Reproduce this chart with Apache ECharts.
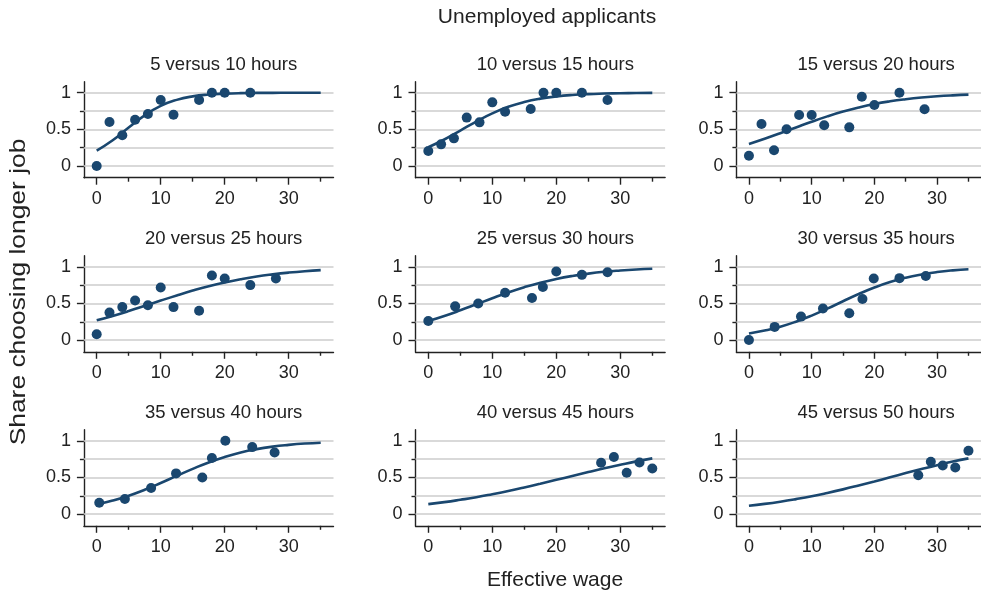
<!DOCTYPE html>
<html>
<head>
<meta charset="utf-8">
<script src="https://cdn.jsdelivr.net/npm/echarts@6/dist/echarts.min.js"></script>
<style>html,body{margin:0;padding:0;background:#fff}#c{width:981px;height:595px}</style>
</head>
<body>
<div id="c"></div>
<script>
// ---- data ----
var mainTitle = 'Unemployed applicants';
var xName = 'Effective wage';
var yName = 'Share choosing longer job';
var panelTitles = ['5 versus 10 hours','10 versus 15 hours','15 versus 20 hours',
                   '20 versus 25 hours','25 versus 30 hours','30 versus 35 hours',
                   '35 versus 40 hours','40 versus 45 hours','45 versus 50 hours'];
var xMajor = [0,10,20,30];
var xMinor = [5,15,25,35];
var yMajor = [0,0.5,1];
var yMinor = [0.25,0.75];
var gridVals = [0,0.25,0.5,0.75,1];

var pts1 = [[0,0],[2,0.6],[4,0.42],[6,0.63],[8,0.71],[10,0.9],[12,0.7],[16,0.9],[18,1],[20,1],[24,1]];
var pts2 = [[0,0.205],[2,0.295],[4,0.377],[6,0.66],[8,0.595],[10,0.868],[12,0.74],[16,0.777],[18,1],[20,1],[24,1],[28,0.9]];
var pts3 = [[0,0.14],[2,0.573],[4,0.214],[6,0.5],[8,0.695],[10,0.695],[12,0.555],[16,0.527],[18,0.945],[20,0.832],[24,1],[28,0.773]];
var pts4 = [[0,0.08],[2,0.375],[4,0.45],[6,0.54],[8,0.475],[10,0.717],[12,0.45],[16,0.4],[18,0.88],[20,0.84],[24,0.75],[28,0.84]];
var pts5 = [[0,0.26],[4.2,0.46],[7.8,0.5],[12,0.645],[16.2,0.575],[17.9,0.725],[20,0.935],[24,0.89],[28,0.925]];
var pts6 = [[0,0],[4.1,0.18],[8.3,0.32],[11.8,0.43],[16,0.365],[18.1,0.56],[19.9,0.84],[24,0.845],[28.2,0.875]];
var pts7 = [[0.4,0.155],[4.4,0.205],[8.5,0.355],[12.4,0.555],[16.5,0.5],[18,0.764],[20.1,1],[24.3,0.914],[27.8,0.84]];
var pts8 = [[27,0.7],[29,0.78],[31,0.565],[33,0.705],[35,0.623]];
var pts9 = [[27,0.53],[29,0.714],[30.9,0.664],[32.9,0.636],[35,0.864]];

var curveX  = [0,2.5,5,7.5,10,12.5,15,17.5,20,22.5,25,27.5,30,32.5,35];
var curveX7 = [0.4,2.5,5,7.5,10,12.5,15,17.5,20,22.5,25,27.5,30,32.5,35];
var fit1 = [0.21,0.351,0.524,0.691,0.820,0.902,0.950,0.975,0.987,0.994,0.997,0.998,0.999,0.9996,0.9998];
var fit2 = [0.255,0.361,0.483,0.606,0.717,0.807,0.873,0.919,0.949,0.969,0.981,0.988,0.993,0.9956,0.997];
var fit3 = [0.30,0.371,0.447,0.526,0.604,0.677,0.742,0.798,0.845,0.882,0.911,0.934,0.951,0.964,0.974];
var fit4 = [0.270,0.330,0.396,0.467,0.539,0.609,0.675,0.735,0.787,0.831,0.868,0.897,0.921,0.940,0.954];
var fit5 = [0.260,0.329,0.406,0.488,0.571,0.650,0.721,0.783,0.834,0.875,0.907,0.932,0.950,0.964,0.974];
var fit6 = [0.090,0.130,0.182,0.251,0.334,0.429,0.530,0.628,0.717,0.792,0.851,0.895,0.928,0.951,0.966];
var fit7 = [0.140,0.184,0.251,0.332,0.424,0.521,0.617,0.705,0.779,0.840,0.886,0.920,0.944,0.962,0.974];
var fit8 = [0.136,0.163,0.195,0.230,0.271,0.315,0.363,0.414,0.467,0.520,0.573,0.625,0.673,0.719,0.760];
var fit9 = [0.114,0.139,0.169,0.204,0.243,0.288,0.337,0.390,0.445,0.502,0.559,0.614,0.667,0.716,0.760];

var points = [pts1,pts2,pts3,pts4,pts5,pts6,pts7,pts8,pts9];
var fits = [fit1,fit2,fit3,fit4,fit5,fit6,fit7,fit8,fit9];
var fitXs = [curveX,curveX,curveX,curveX,curveX,curveX,curveX7,curveX,curveX];

// ---- layout / style ----
var NAVY = '#1a476f';
var FONT = '"Liberation Sans", Arial, Helvetica, sans-serif';
var colLeft = [83.9, 415.5, 736.4];
var rowTop = [81.7, 255.8, 429.8];
var gw = 249.6, gh = 96;

var grids = [], xAxes = [], yAxes = [], series = [], graphics = [];
for (var i = 0; i < 9; i++) {
  var r = Math.floor(i / 3), c = i % 3;
  grids.push({left: colLeft[c], top: rowTop[r], width: gw, height: gh});
  xAxes.push({gridIndex: i, type: 'value', min: -2, max: 37, position: 'bottom',
    axisLine: {show: true, onZero: false, lineStyle: {color: '#222', width: 1.4}},
    axisTick: {show: true, length: 7, customValues: xMajor, lineStyle: {color: '#222', width: 1.4}},
    axisLabel: {show: true, customValues: xMajor, margin: 12, fontSize: 18, color: '#222', fontFamily: FONT},
    splitLine: {show: false}});
  xAxes.push({gridIndex: i, type: 'value', min: -2, max: 37, position: 'bottom',
    axisLine: {show: false, onZero: false},
    axisTick: {show: true, length: 4, customValues: xMinor, lineStyle: {color: '#222', width: 1.4}},
    axisLabel: {show: false}, splitLine: {show: false}});
  yAxes.push({gridIndex: i, type: 'value', min: -0.16, max: 1.15, position: 'left',
    axisLine: {show: true, onZero: false, lineStyle: {color: '#222', width: 1.4}},
    axisTick: {show: true, length: 7, customValues: yMajor, lineStyle: {color: '#222', width: 1.4}},
    axisLabel: {show: true, customValues: yMajor, margin: 13, fontSize: 18, color: '#222', fontFamily: FONT},
    splitLine: {show: false}});
  yAxes.push({gridIndex: i, type: 'value', min: -0.16, max: 1.15, position: 'left',
    axisLine: {show: false, onZero: false},
    axisTick: {show: true, length: 4, customValues: yMinor, lineStyle: {color: '#222', width: 1.4}},
    axisLabel: {show: false}, splitLine: {show: false}});

  var lineData = fitXs[i].map(function (x, k) { return [x, fits[i][k]]; });
  series.push({type: 'line', xAxisIndex: 2 * i, yAxisIndex: 2 * i, data: lineData,
    smooth: true, showSymbol: false, symbol: 'none', z: 3,
    lineStyle: {color: NAVY, width: 2.6}, animation: false, silent: true,
    markLine: {z: 1, silent: true, symbol: ['none', 'none'], label: {show: false},
      lineStyle: {color: '#cccccc', width: 1.5, type: 'solid'}, animation: false,
      data: gridVals.map(function (v) { return {yAxis: v}; })}});
  series.push({type: 'scatter', xAxisIndex: 2 * i, yAxisIndex: 2 * i, data: points[i],
    symbol: 'circle', symbolSize: 10, z: 4, itemStyle: {color: NAVY, opacity: 1},
    animation: false, silent: true});

  graphics.push({type: 'text', x: colLeft[c] + gw / 2 + 15, y: rowTop[r] - 17,
    style: {text: panelTitles[i], align: 'center', verticalAlign: 'middle',
      font: '18.5px ' + FONT, fill: '#222'}});
}
graphics.push({type: 'text', x: 547, y: 17,
  style: {text: mainTitle, align: 'center', verticalAlign: 'middle', font: '21px ' + FONT, fill: '#222'}});
graphics.push({type: 'text', x: 555, y: 580,
  style: {text: xName, align: 'center', verticalAlign: 'middle', font: '21px ' + FONT, fill: '#222'}});
graphics.push({type: 'text', x: 19, y: 292, rotation: Math.PI / 2, scaleX: 1.2,
  style: {text: yName, align: 'center', verticalAlign: 'middle', font: '22px ' + FONT, fill: '#222'}});

var chart = echarts.init(document.getElementById('c'), null, {renderer: 'canvas'});
chart.setOption({
  animation: false,
  backgroundColor: '#ffffff',
  grid: grids, xAxis: xAxes, yAxis: yAxes, series: series,
  graphic: graphics
});
</script>
</body>
</html>
